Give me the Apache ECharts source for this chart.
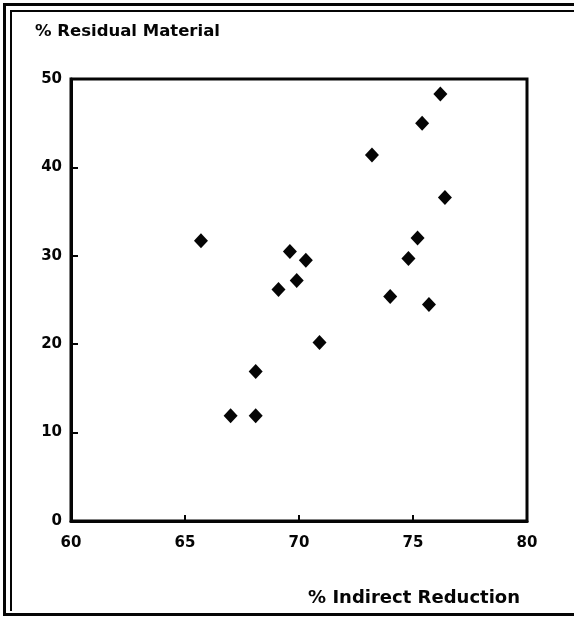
<!DOCTYPE html>
<html>
<head>
<meta charset="utf-8">
<script src="https://cdn.jsdelivr.net/npm/echarts@6/dist/echarts.min.js"></script>
<style>
  html, body { margin: 0; padding: 0; background: #fff; }
  #chart { width: 574px; height: 619px; }
</style>
</head>
<body>
<div id="chart"></div>
<script>
// Indirect reduction (%) against residual material (%), one point per sample
const indirectReduction = [76.2, 75.4, 73.2, 76.4, 65.7, 75.2, 69.6, 70.3, 74.8, 69.9, 69.1, 74.0, 75.7, 70.9, 68.1, 67.0, 68.1];
const residualMaterial  = [48.3, 45.0, 41.4, 36.6, 31.7, 32.0, 30.5, 29.5, 29.7, 27.2, 26.2, 25.4, 24.5, 20.2, 16.9, 11.9, 11.9];

const xTicks = [60, 65, 70, 75, 80];
const yTicks = [0, 10, 20, 30, 40, 50];

const xTitle = '% Indirect Reduction';
const yTitle = '% Residual Material';

const ink = '#050505';
const font = '"DejaVu Sans", Verdana, sans-serif';

const points = indirectReduction.map((x, i) => [x, residualMaterial[i]]);

const chart = echarts.init(document.getElementById('chart'), null, { renderer: 'canvas' });

chart.setOption({
  backgroundColor: '#ffffff',
  animation: false,
  grid: {
    left: 71, right: 47, top: 79, bottom: 98,
    show: true,
    borderColor: ink,
    borderWidth: 3,
    backgroundColor: 'transparent'
  },
  xAxis: {
    type: 'value',
    min: xTicks[0],
    max: xTicks[xTicks.length - 1],
    interval: 5,
    axisLine: { show: true, lineStyle: { color: ink, width: 3 } },
    axisTick: { show: true, inside: true, length: 6, lineStyle: { color: ink, width: 2 } },
    axisLabel: {
      color: ink, fontFamily: font, fontWeight: 'bold', fontSize: 15, margin: 15
    },
    splitLine: { show: false }
  },
  yAxis: {
    type: 'value',
    min: yTicks[0],
    max: yTicks[yTicks.length - 1],
    interval: 10,
    axisLine: { show: true, lineStyle: { color: ink, width: 3 } },
    axisTick: { show: true, inside: true, length: 7, lineStyle: { color: ink, width: 2 } },
    axisLabel: {
      color: ink, fontFamily: font, fontWeight: 'bold', fontSize: 15, margin: 9
    },
    splitLine: { show: false }
  },
  series: [{
    type: 'scatter',
    data: points,
    symbol: 'diamond',
    symbolSize: [14, 15],
    itemStyle: { color: ink, opacity: 1 },
    emphasis: { disabled: true }
  }],
  graphic: [
    // double frame around the figure
    { type: 'polyline', shape: { points: [[600, 4.5], [4.5, 4.5], [4.5, 614.5], [600, 614.5]] },
      style: { stroke: ink, lineWidth: 3, fill: null } },
    { type: 'polyline', shape: { points: [[600, 11], [11, 11], [11, 611]] },
      style: { stroke: ink, lineWidth: 2, fill: null } },
    { type: 'text', left: 35, top: 23,
      style: { text: yTitle, fill: ink, font: 'bold 16.5px ' + font } },
    { type: 'text', right: 54, top: 589,
      style: { text: xTitle, fill: ink, font: 'bold 18px ' + font } }
  ]
});
</script>
</body>
</html>
